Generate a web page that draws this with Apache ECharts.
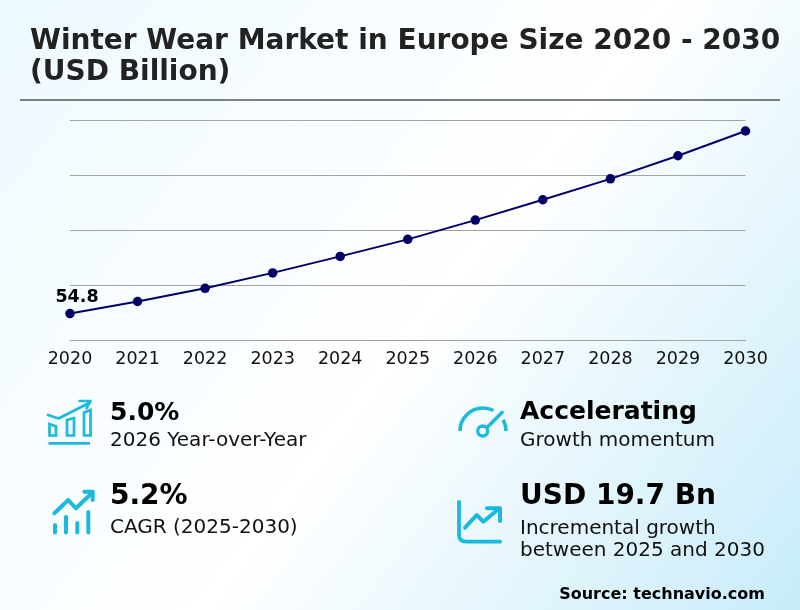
<!DOCTYPE html>
<html lang="en">
<head>
    <meta charset="UTF-8">
    <title>Winter Wear Market in Europe</title>
    <script src="https://cdn.jsdelivr.net/npm/echarts@6/dist/echarts.min.js"></script>
</head>
<body style="margin: 0">
<div id="container" style="width:800px;height:610px;"></div>
<script>
    var years = ["2020", "2021", "2022", "2023", "2024", "2025", "2026", "2027", "2028", "2029", "2030"];
    var marketSize = [54.8, 57.0, 59.4, 62.2, 65.2, 68.3, 71.8, 75.5, 79.3, 83.5, 88.0];

    var font = "DejaVu Sans";
    var iconColor = "#1bb9dc";

    function text(str, x, y, size, bold, align, color) {
        return {
            type: "text", x: x, y: y, silent: true,
            style: {
                text: str, fill: color || "#000", font: (bold ? "bold " : "") + size + "px '" + font + "'",
                textAlign: align || "left", textVerticalAlign: "middle"
            }
        };
    }

    function line(points, width, cap) {
        return {
            type: "polyline", silent: true,
            shape: { points: points },
            style: { fill: null, stroke: iconColor, lineWidth: width, lineCap: cap || "round", lineJoin: "round" }
        };
    }

    function box(points) {
        return {
            type: "polygon", silent: true,
            shape: { points: points },
            style: { fill: null, stroke: iconColor, lineWidth: 2.7, lineJoin: "miter" }
        };
    }

    function arc(start, end) {
        return {
            type: "arc", silent: true,
            shape: { cx: 483, cy: 431, r: 23, startAngle: Math.PI * start, endAngle: Math.PI * end },
            style: { fill: null, stroke: iconColor, lineWidth: 3.6, lineCap: "butt" }
        };
    }

    var graphics = [
        { type: "line", silent: true, shape: { x1: 20, y1: 100, x2: 780, y2: 100 }, style: { stroke: "#7a7f80", lineWidth: 2 } },

        // icon: bars with arrow
        line([[48.5, 443.3], [90, 443.3]], 2.7, "butt"),
        box([[49.5, 424], [56, 426.5], [56, 435.5], [49.5, 435.5]]),
        box([[67, 420], [74, 418], [74, 435.5], [67, 435.5]]),
        box([[84, 412.5], [90.5, 410], [90.5, 435.5], [84, 435.5]]),
        line([[48, 415], [58.5, 418.5], [90, 402.5]], 2.7),
        line([[79.5, 401], [90.5, 401], [86.5, 408]], 2.7),

        // icon: trend with bars
        line([[54.3, 513.3], [68.3, 500], [76, 508.3], [91.7, 493.3]], 4),
        line([[84.3, 491.7], [92.7, 491.7], [92.7, 500]], 4),
        line([[55, 525], [55, 532.5]], 4),
        line([[66, 517], [66, 532.5]], 4),
        line([[77.3, 523], [77.3, 532.5]], 4),
        line([[88.3, 512], [88.3, 532.5]], 4),

        // icon: gauge
        arc(1, 1.65),
        arc(1.84, 2),
        { type: "circle", silent: true, shape: { cx: 482.7, cy: 431, r: 5 }, style: { fill: null, stroke: iconColor, lineWidth: 3.3 } },
        line([[488, 426.5], [502, 412.5]], 3.6),

        // icon: framed trend
        line([[459, 502], [459, 535], [459.5, 538], [461, 540], [463, 541.2], [466, 541.7], [500, 541.7]], 3.8),
        line([[465, 527.7], [476.7, 515], [483.3, 521.7], [498.5, 509]], 4),
        line([[487, 508.3], [500, 508.3], [500, 521]], 4),

        text("Winter Wear Market in Europe Size 2020 - 2030", 30, 41.5, 28, true, "left", "#222"),
        text("(USD Billion)", 30, 72.5, 28, true, "left", "#222"),
        text("5.0%", 110, 413, 25, true),
        text("2026 Year-over-Year", 110, 441, 20, false, "left", "#111"),
        text("5.2%", 110, 497, 28, true),
        text("CAGR (2025-2030)", 110, 528, 20, false, "left", "#111"),
        text("Accelerating", 520, 412, 25, true),
        text("Growth momentum", 520, 441, 20, false, "left", "#111"),
        text("USD 19.7 Bn", 520, 497, 28, true),
        text("Incremental growth", 520, 529, 20, false, "left", "#111"),
        text("between 2025 and 2030", 520, 551, 20, false, "left", "#111"),
        text("Source: technavio.com", 765, 595, 16, true, "right")
    ];

    var myChart = echarts.init(document.getElementById("container"), null, { renderer: "canvas" });

    myChart.setOption({
        animation: false,
        backgroundColor: {
            type: "linear", x: 0, y: 0, x2: 1, y2: 1,
            colorStops: [
                { offset: 0, color: "#edf9ff" },
                { offset: 0.53, color: "#ffffff" },
                { offset: 1, color: "#c8ecfa" }
            ]
        },
        textStyle: { fontFamily: font },
        grid: { left: 70, right: 54.5, top: 120, bottom: 270 },
        xAxis: {
            type: "category", data: years, boundaryGap: false,
            axisLine: { lineStyle: { color: "#a3a3a3", width: 1 } },
            axisTick: { show: false },
            axisLabel: { color: "#111", fontSize: 17.5, margin: 10, fontFamily: font, showMinLabel: true, showMaxLabel: true, interval: 0 }
        },
        yAxis: {
            type: "value", min: 50, max: 90, interval: 10,
            axisLine: { show: false }, axisTick: { show: false }, axisLabel: { show: false },
            splitLine: { lineStyle: { color: "#a3a3a3", width: 1 } }
        },
        series: [{
            type: "line", data: marketSize, smooth: false,
            symbol: "circle", symbolSize: 9.5,
            lineStyle: { color: "#000066", width: 2 },
            itemStyle: { color: "#000066" },
            label: {
                show: true, position: "top", distance: 2, offset: [7, 0],
                color: "#000", fontWeight: "bold", fontSize: 17.5, fontFamily: font,
                formatter: function (p) { return p.dataIndex === 0 ? p.value.toFixed(1) : ""; }
            }
        }],
        graphic: { elements: graphics }
    });
</script>
</body>
</html>
